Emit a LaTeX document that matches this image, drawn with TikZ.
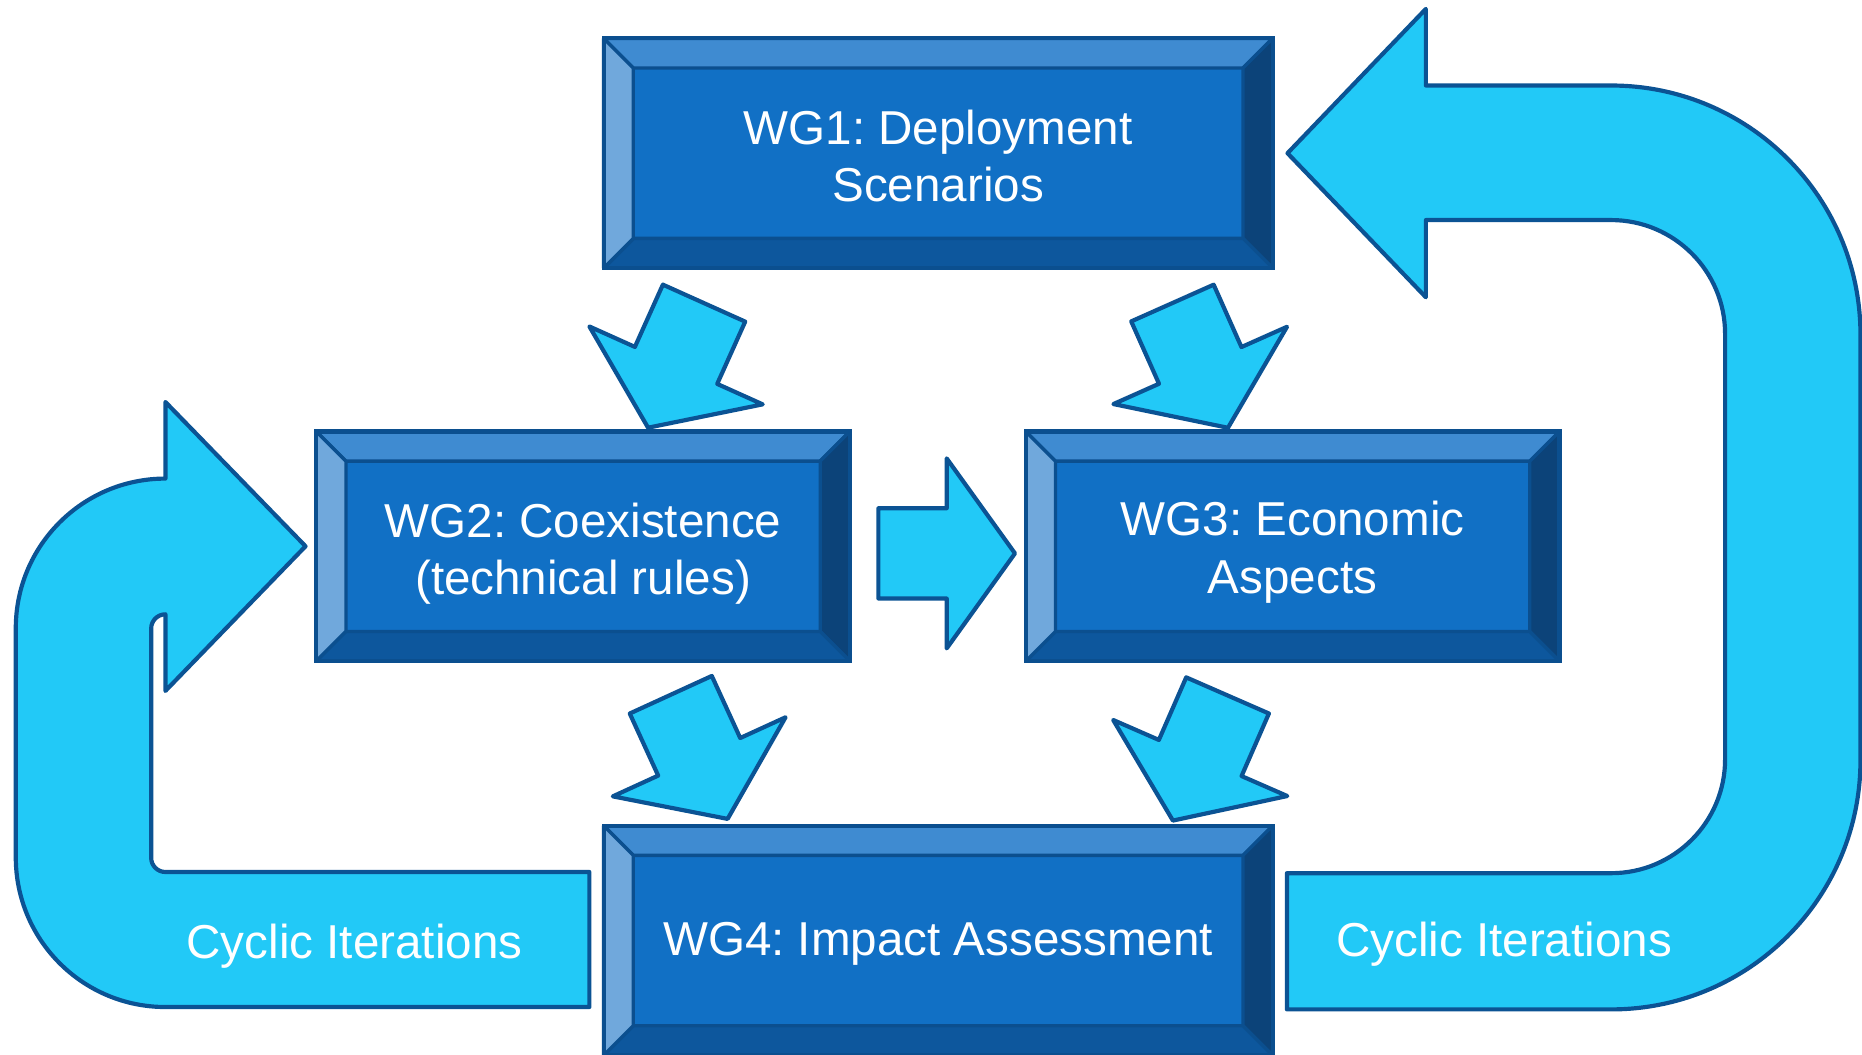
\documentclass[tikz,border=0pt]{standalone}
\usepackage{fontspec}
\setmainfont{Liberation Sans}
\usepackage{tikz}
\usepackage{xcolor}
\usetikzlibrary{calc, positioning}
\definecolor{wgmid}{RGB}{17, 112, 197}
\definecolor{wgtop}{RGB}{63, 139, 209}
\definecolor{wgleft}{RGB}{112, 168, 220}
\definecolor{wgright}{RGB}{12, 67, 121}
\definecolor{wgbottom}{RGB}{13, 87, 157}
\definecolor{wgedge}{RGB}{11, 79, 143}
\definecolor{cycfill}{RGB}{34, 201, 247}
\definecolor{cycedge}{RGB}{11, 83, 148}

\begin{document}
\frenchspacing
\begin{tikzpicture}%{{{
        \useasboundingbox (0, 0) rectangle (15.68, -8.88);

        \coordinate (C1) at (7.90, -1.29);
        \coordinate (C2) at ($(C1) + (-2.99,  -3.31)$);
        \coordinate (C3) at ($(C1) + ( 2.985, -3.31)$);
        \coordinate (C4) at ($(C1) + ( 0,     -6.63)$);

        \tikzstyle{wg} = [fill=wgmid, inner sep=0pt, minimum height=1.92cm];
        \node [wg, minimum width=5.62cm] (wg1) at (C1) {};
        \node [wg, minimum width=4.48cm] (wg2) at (C2) {};
        \node [wg, minimum width=4.48cm] (wg3) at (C3) {};
        \node [wg, minimum width=5.62cm] (wg4) at (C4) {};

        \tikzstyle{bev} = [draw=wgedge, line width=0.8pt, line join=round];
        \foreach \b in {wg1, wg2, wg3, wg4}{
            \draw [bev, fill=wgtop] (\b.north west) -- (\b.north east)
                -- ($(\b.north east) + (-0.25, -0.25)$) -- ($(\b.north west) + (0.25, -0.25)$) -- cycle;
            \draw [bev, fill=wgright] (\b.north east) -- (\b.south east)
                -- ($(\b.south east) + (-0.25, 0.25)$) -- ($(\b.north east) + (-0.25, -0.25)$) -- cycle;
            \draw [bev, fill=wgbottom] (\b.south east) -- (\b.south west)
                -- ($(\b.south west) + (0.25, 0.25)$) -- ($(\b.south east) + (-0.25, 0.25)$) -- cycle;
            \draw [bev, fill=wgleft] (\b.south west) -- (\b.north west)
                -- ($(\b.north west) + (0.25, -0.25)$) -- ($(\b.south west) + (0.25, 0.25)$) -- cycle;
            \draw [draw=wgedge, line width=1pt] (\b.north west) rectangle (\b.south east);
        }

        \tikzstyle{lbl} = [text=white, align=center, inner sep=0pt, font=\fontsize{11.4}{13.7}\selectfont];
        \node [lbl] (l1) at ($(wg1) + (0, -0.025)$) {WG1: Deployment\\Scenarios};
        \node [lbl] (l2) at ($(wg2) + (0, -0.06)$) {WG2: Coexistence\\(technical rules)};
        \node [lbl] (l3) at ($(wg3) + (0, -0.05)$) {WG3: Economic\\Aspects};
        \node [lbl] (l4) at ($(wg4) + (0, -0.03)$) {WG4: Impact Assessment};

        \tikzstyle{blk} = [draw=cycedge, fill=cycfill, line width=1pt, line join=round];

        % small block arrows between the groups
        \coordinate (a12) at ($(wg1.south west) + ( 0.61,  -0.82)$);
        \coordinate (a13) at ($(wg1.south east) + (-0.61,  -0.82)$);
        \coordinate (a23) at ($(wg2.east)       + ( 0.815, -0.06)$);
        \coordinate (a24) at ($(wg4.north west) + ( 0.805,  0.58)$);
        \coordinate (a34) at ($(wg4.north east) + (-0.61,   0.57)$);

        \foreach \c/\a in {a12/-114.2, a13/-66, a23/0, a24/-65.4, a34/-113.6}{
            \draw [blk, shift={(\c)}, rotate=\a] (-0.575, -0.38) -- (0, -0.38) -- (0, -0.80)
                -- (0.575, 0) -- (0, 0.80) -- (0, 0.38) -- (-0.575, 0.38) -- cycle;
        }

        % cyclic iterations, left: from wg4 back to wg2
        \coordinate (LT) at ($(wg4.north west) + (-0.12, -0.39)$);
        \coordinate (LH) at ($(wg2.west) + (-0.09, 0)$);
        \draw [blk] (LT) -- ++(-3.57, 0) arc[start angle=270, end angle=180, radius=0.12]
            -- ++(0, 1.93) arc[start angle=180, end angle=90, radius=0.12]
            -- ++(0, -0.645) -- (LH) -- ++(-1.18, 1.215) -- ++(0, -0.645)
            arc[start angle=90, end angle=180, radius=1.26] -- ++(0, -1.93)
            arc[start angle=180, end angle=270, radius=1.26] -- ++(3.57, 0) -- cycle;

        % cyclic iterations, right: from wg4 back to wg1
        \coordinate (RT) at ($(wg4.north east) + (0.12, -0.40)$);
        \coordinate (RH) at ($(wg1.east) + (0.125, 0)$);
        \draw [blk] (RT) -- ++(2.73, 0) arc[start angle=270, end angle=360, radius=0.96]
            -- ++(0, 3.58) arc[start angle=0, end angle=90, radius=0.96]
            -- ++(-1.56, 0) -- ++(0, -0.65) -- (RH) -- ++(1.165, 1.215) -- ++(0, -0.645)
            -- ++(1.56, 0) arc[start angle=90, end angle=0, radius=2.10]
            -- ++(0, -3.58) arc[start angle=0, end angle=-90, radius=2.10]
            -- ++(-2.73, 0) -- cycle;

        \node [lbl] (it1) at (2.985, -7.965) {Cyclic Iterations};
        \node [lbl] (it2) at (12.665, -7.95) {Cyclic Iterations};
    \end{tikzpicture}
\end{document}
